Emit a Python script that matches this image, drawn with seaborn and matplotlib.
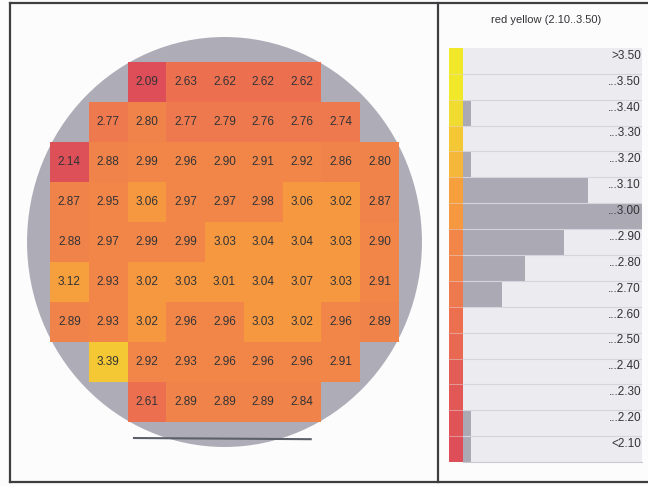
import numpy as np
import pandas as pd
import matplotlib
matplotlib.use("Agg")
import matplotlib.pyplot as plt
from matplotlib.colors import ListedColormap, BoundaryNorm
from matplotlib.patches import Ellipse
from matplotlib.lines import Line2D
import seaborn as sns

nan = np.nan

# Site values on the wafer, rows from top to bottom (nan = no site)
row_0 = [nan, nan, 2.09, 2.63, 2.62, 2.62, 2.62, nan, nan]
row_1 = [nan, 2.77, 2.80, 2.77, 2.79, 2.76, 2.76, 2.74, nan]
row_2 = [2.14, 2.88, 2.99, 2.96, 2.90, 2.91, 2.92, 2.86, 2.80]
row_3 = [2.87, 2.95, 3.06, 2.97, 2.97, 2.98, 3.06, 3.02, 2.87]
row_4 = [2.88, 2.97, 2.99, 2.99, 3.03, 3.04, 3.04, 3.03, 2.90]
row_5 = [3.12, 2.93, 3.02, 3.03, 3.01, 3.04, 3.07, 3.03, 2.91]
row_6 = [2.89, 2.93, 3.02, 2.96, 2.96, 3.03, 3.02, 2.96, 2.89]
row_7 = [nan, 3.39, 2.92, 2.93, 2.96, 2.96, 2.96, 2.91, nan]
row_8 = [nan, nan, 2.61, 2.89, 2.89, 2.89, 2.84, nan, nan]

# Histogram classes (upper edges), listed bottom to top
class_edges = [2.10, 2.20, 2.30, 2.40, 2.50, 2.60, 2.70, 2.80,
               2.90, 3.00, 3.10, 3.20, 3.30, 3.40, 3.50]
class_labels = ["<2.10", "...2.20", "...2.30", "...2.40", "...2.50", "...2.60",
                "...2.70", "...2.80", "...2.90", "...3.00", "...3.10", "...3.20",
                "...3.30", "...3.40", "...3.50", ">3.50"]
# value used to pick each class swatch colour, bottom to top
swatch_levels = [2.05, 2.20, 2.30, 2.40, 2.50, 2.60, 2.70, 2.80,
                 2.90, 3.00, 3.10, 3.20, 3.30, 3.40, 3.50, 3.55]

title = "red yellow (2.10..3.50)"

values = np.array([row_0, row_1, row_2, row_3, row_4, row_5, row_6, row_7, row_8])

# red -> yellow palette in 0.1 steps
level_bounds = [2.0, 2.1, 2.2, 2.3, 2.4, 2.5, 2.6, 2.7, 2.8, 2.9,
                3.0, 3.1, 3.2, 3.3, 3.4, 3.5, 3.6]
level_rgb = [(222, 78, 88), (222, 80, 88), (224, 84, 88), (226, 88, 87),
             (228, 92, 86), (233, 104, 82), (236, 112, 80), (238, 121, 78),
             (240, 131, 73), (241, 134, 72), (245, 152, 63), (245, 160, 60),
             (245, 183, 58), (243, 200, 52), (240, 220, 48), (240, 232, 40)]
cmap = ListedColormap([tuple(c / 255 for c in rgb) for rgb in level_rgb])
norm = BoundaryNorm(level_bounds, cmap.N, clip=True)

W, H = 648, 486
fig = plt.figure(figsize=(W / 100, H / 100), dpi=100, facecolor="#FCFCFD")


def frac_rect(x0, y0, x1, y1):
    return [x0 / W, 1 - y1 / H, (x1 - x0) / W, (y1 - y0) / H]


wafer_grey = "#AEACB6"
text_dark = "#333336"
fonts = ["Liberation Sans", "DejaVu Sans"]

# ---- wafer map ----
ax = fig.add_axes(frac_rect(22, 32, 427, 452))
ax.set_facecolor("none")
sns.heatmap(values, cmap=cmap, norm=norm, annot=True, fmt=".2f", cbar=False,
            xticklabels=False, yticklabels=False, linewidths=0,
            annot_kws={"fontsize": 8.5, "color": text_dark, "family": fonts},
            ax=ax)
ax.set_xlim(-0.72, 9.72)
ax.set_ylim(9.75, -0.75)
ax.add_patch(Ellipse((4.5, 4.5), 2 * 5.09, 2 * 5.125, facecolor=wafer_grey,
                     edgecolor="none", zorder=0))
ax.plot([2.14, 6.75], [9.40, 9.43], color="#5C6169", lw=1.5, zorder=3,
        solid_capstyle="butt")
for s in ax.spines.values():
    s.set_visible(False)

# ---- class histogram ----
counts = np.bincount(np.digitize(values[~np.isnan(values)], class_edges, right=True),
                     minlength=len(class_labels))
hist = pd.DataFrame({"label": class_labels[::-1], "count": counts[::-1]})
levels_top_down = np.array(swatch_levels[::-1]).reshape(-1, 1)
n = len(class_labels)

sax = fig.add_axes(frac_rect(449, 48, 463, 462))
sns.heatmap(levels_top_down, cmap=cmap, norm=norm, cbar=False,
            xticklabels=False, yticklabels=False, linewidths=0, ax=sax)
for i in range(1, n):
    sax.axhline(i, color="#E9D9D2", lw=0.6, alpha=0.6)

bax = fig.add_axes(frac_rect(463, 48, 642, 462))
bax.set_facecolor("#ECECF0")
sns.barplot(data=hist, x="count", y="label", orient="h", color="#ABA9B3",
            saturation=1, width=1.0, ax=bax)
bax.set_xlim(0, counts.max())
bax.set_ylim(n - 0.5, -0.5)
for i in range(n - 1):
    bax.axhline(i + 0.5, color="#D5D6DD", lw=0.8, zorder=3)
for i, lab in enumerate(hist["label"]):
    bax.text(0.995, i - 0.2, lab, transform=bax.get_yaxis_transform(),
             ha="right", va="center", fontsize=8.5, color=text_dark, zorder=4,
             family=fonts)
bax.set_xlabel("")
bax.set_ylabel("")
bax.set_xticks([])
bax.set_yticks([])
for k, s in bax.spines.items():
    s.set_visible(k == "bottom")
bax.spines["bottom"].set_color("#C8C9D0")

fig.text(546 / W, 1 - 20 / H, title, ha="center", va="center", fontsize=8,
         color=text_dark, family=fonts)

# ---- page frame ----
frame = "#3E3E40"
for (x0, y0, x1, y1) in [(10, 3, 10, 482), (10, 3, 648, 3), (10, 482, 648, 482),
                         (438.5, 3, 438.5, 482)]:
    fig.add_artist(Line2D([x0 / W, x1 / W], [1 - y0 / H, 1 - y1 / H],
                          color=frame, lw=1.6, transform=fig.transFigure))

fig.savefig("out.png", dpi=100, facecolor=fig.get_facecolor())
